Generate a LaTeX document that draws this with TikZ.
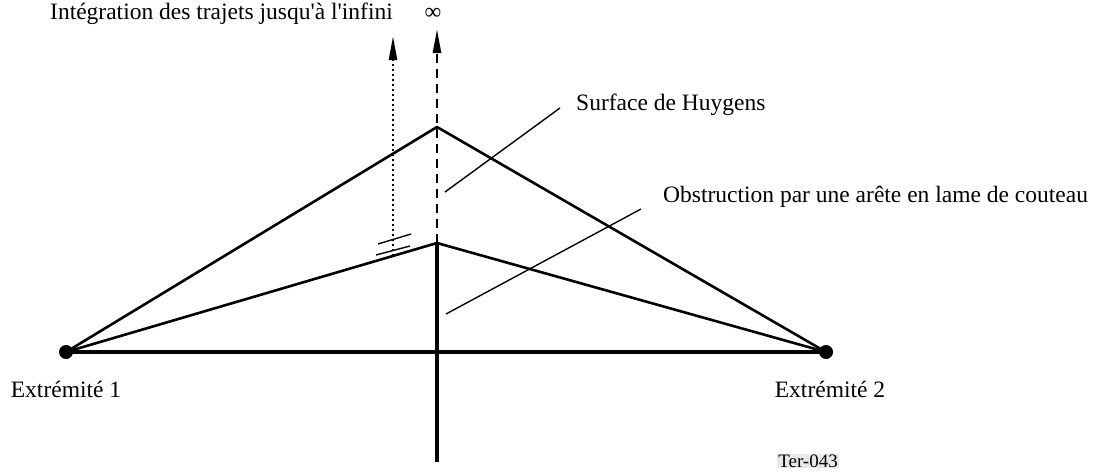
\documentclass[tikz,border=0pt]{standalone}
\usepackage{fontspec}
\setmainfont{Liberation Serif}
\usetikzlibrary{positioning,arrows.meta,calc}

\begin{document}
\begin{tikzpicture}[
          x=1pt, y=-1pt,
          ray/.style={line width=2.6pt},
          edge/.style={line width=4pt},
          lead/.style={line width=1.4pt},
          upray/.style={line width=2.4pt, -{Triangle[length=24pt,width=8pt]}},
          dot/.style={circle, fill, inner sep=0pt, minimum size=14pt},
          lbl/.style={font=\fontsize{23.5}{27}\selectfont, inner sep=0pt}
      ]
        \useasboundingbox (0,0) rectangle (1103,474);
        % points
        \node[dot] (e1) at (66,352) {};
        \node[dot] (e2) at (826,352) {};
        \coordinate (top) at (437,127);
        \coordinate (knife) at (437,243);
        \coordinate (foot) at (437,462);
        \coordinate (inf) at (437,29);
        \coordinate (dbot) at (393,256);
        \coordinate (dtop) at (393,36);
        % rays
        \draw[ray, line join=round] (e1.center) -- (top) -- (e2.center);
        \draw[ray, line join=round] (e1.center) -- (knife) -- (e2.center);
        \draw[edge] (e1.center) -- (e2.center);
        \draw[edge] (knife) -- (foot);
        \draw[upray, dash pattern=on 9pt off 6pt] (knife) -- (inf);
        \draw[upray, dash pattern=on 2.5pt off 2.5pt] (dbot) -- (dtop);
        \draw[lead] (378,244) -- (411,234);
        \draw[lead] (376,255) -- (410,246);
        % labels
        \node[lbl, anchor=west] (huy) at (576,105) {Surface de Huygens};
        \node[lbl, anchor=west] (obs) at (663,197) {Obstruction par une arête en lame de couteau};
        \draw[lead] (560,108) -- (445,192);
        \draw[lead] (641,209) -- (446,314);
        \node[lbl] (n1) at (66,389) {Extrémité 1};
        \node[lbl] (n2) at (830,389) {Extrémité 2};
        \node[lbl, anchor=east] (integ) at (393,14) {Intégration des trajets jusqu\textquotesingle à l\textquotesingle infini};
        \node[lbl] (infsym) at (433,14) {∞};
        \node[font=\fontsize{19}{22}\selectfont, fill=gray!18, inner sep=1pt] (ref) at (808,461) {Ter-043};
      \end{tikzpicture}
\end{document}
